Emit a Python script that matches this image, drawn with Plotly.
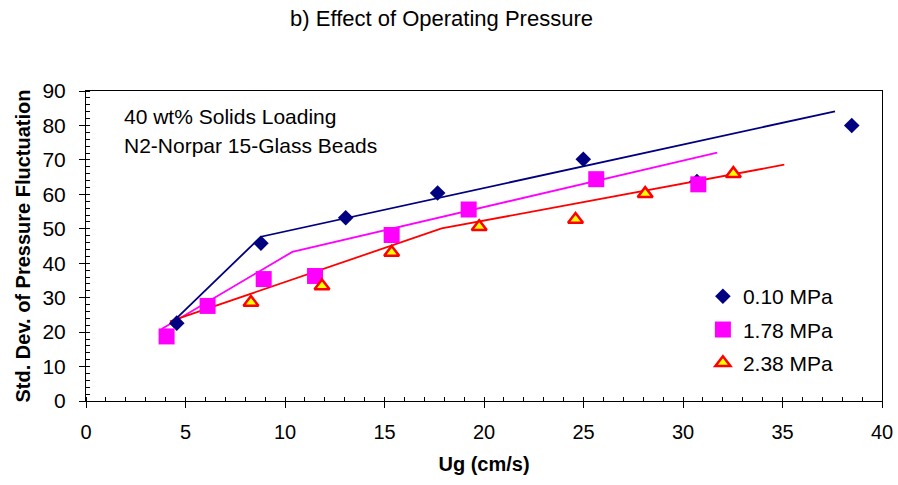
import plotly.graph_objects as go

# Measured data: superficial gas velocity (cm/s) vs std. dev. of pressure fluctuation
ug_010 = [4.56, 8.79, 13.05, 17.67, 24.99, 30.7, 38.48]
sd_010 = [22.6, 45.8, 53.2, 60.4, 70.2, 63.7, 80.0]

ug_178 = [4.05, 6.11, 8.93, 11.51, 15.36, 19.23, 25.64, 30.77]
sd_178 = [18.75, 27.6, 35.4, 36.3, 48.2, 55.6, 64.4, 62.9]

ug_238 = [8.29, 11.86, 15.36, 19.76, 24.6, 28.1, 32.53]
sd_238 = [28.6, 33.4, 43.1, 50.6, 52.7, 60.2, 66.0]

# Correlation curves (piecewise linear)
fit_ug_010 = [4.44, 8.79, 37.64]
fit_sd_010 = [23.4, 47.7, 84.1]

fit_ug_178 = [3.80, 8.66, 10.37, 31.72]
fit_sd_178 = [20.9, 37.6, 43.3, 72.1]

fit_ug_238 = [4.22, 17.87, 35.09]
fit_sd_238 = [23.1, 50.1, 68.6]

labels = ["0.10 MPa", "1.78 MPa", "2.38 MPa"]
colors = ["#000080", "#FF00FF", "#FF0000"]

FONT = "Liberation Sans, Arial, sans-serif"

fig = go.Figure()

for fx, fy, c in [(fit_ug_010, fit_sd_010, colors[0]),
                  (fit_ug_178, fit_sd_178, colors[1]),
                  (fit_ug_238, fit_sd_238, colors[2])]:
    fig.add_trace(go.Scatter(x=fx, y=fy, mode="lines", showlegend=False,
                             line=dict(color=c, width=1.8), hoverinfo="skip"))

fig.add_trace(go.Scatter(x=ug_010, y=sd_010, mode="markers", name=labels[0],
                         legendgroup="a",
                         marker=dict(symbol="diamond", size=12, color=colors[0],
                                     line=dict(width=0))))
fig.add_trace(go.Scatter(x=ug_178, y=sd_178, mode="markers", name=labels[1],
                         legendgroup="b",
                         marker=dict(symbol="square", size=16, color=colors[1],
                                     line=dict(width=0))))
fig.add_trace(go.Scatter(x=ug_238, y=sd_238, mode="markers", name=labels[2],
                         legendgroup="c",
                         marker=dict(symbol="triangle-up", size=13, color="#FFFF00",
                                     line=dict(width=2.5, color=colors[2]))))

fig.add_annotation(x=0.045, y=82.5, xref="paper", yref="y", xanchor="left",
                   yanchor="middle", showarrow=False,
                   text="40 wt% Solids Loading",
                   font=dict(family=FONT, size=21, color="black"))
fig.add_annotation(x=0.045, y=74.3, xref="paper", yref="y", xanchor="left",
                   yanchor="middle", showarrow=False,
                   text="N2-Norpar 15-Glass Beads",
                   font=dict(family=FONT, size=21, color="black"))

fig.update_layout(
    width=898, height=485,
    margin=dict(l=86, r=16, t=91, b=83.5, autoexpand=False),
    paper_bgcolor="white", plot_bgcolor="white",
    title=dict(text="b) Effect of Operating Pressure", x=0.4917, xanchor="center",
               y=0.962, yanchor="middle",
               font=dict(family=FONT, size=22, color="black")),
    showlegend=True,
    legend=dict(x=0.775, y=0.403, xanchor="left", yanchor="top",
                bgcolor="rgba(0,0,0,0)", traceorder="grouped", tracegroupgap=3,
                font=dict(family=FONT, size=21, color="black"),
                itemsizing="trace"),
    font=dict(family=FONT, color="black"),
)

fig.update_xaxes(range=[0, 40], dtick=5, showgrid=False, zeroline=False,
                 automargin=False,
                 showline=True, linecolor="black", linewidth=1, mirror=True,
                 ticks="outside", ticklen=6, tickcolor="black",
                 minor=dict(dtick=1, ticks="inside", ticklen=4, tickcolor="black"),
                 ticklabelstandoff=7,
                 tickfont=dict(family=FONT, size=20, color="black"),
                 title=dict(text="<b>Ug (cm/s)</b>", standoff=14,
                            font=dict(family=FONT, size=20, color="black")))
fig.update_yaxes(range=[0, 90], dtick=10, showgrid=False, zeroline=False,
                 automargin=False,
                 showline=True, linecolor="black", linewidth=1, mirror=True,
                 ticks="outside", ticklen=6, tickcolor="black",
                 minor=dict(dtick=2, ticks="inside", ticklen=4, tickcolor="black"),
                 ticklabelstandoff=9,
                 tickfont=dict(family=FONT, size=21, color="black"),
                 title=dict(text="<b>Std. Dev. of Pressure Fluctuation</b>", standoff=6,
                            font=dict(family=FONT, size=20, color="black")))

fig.write_html("out.html")
